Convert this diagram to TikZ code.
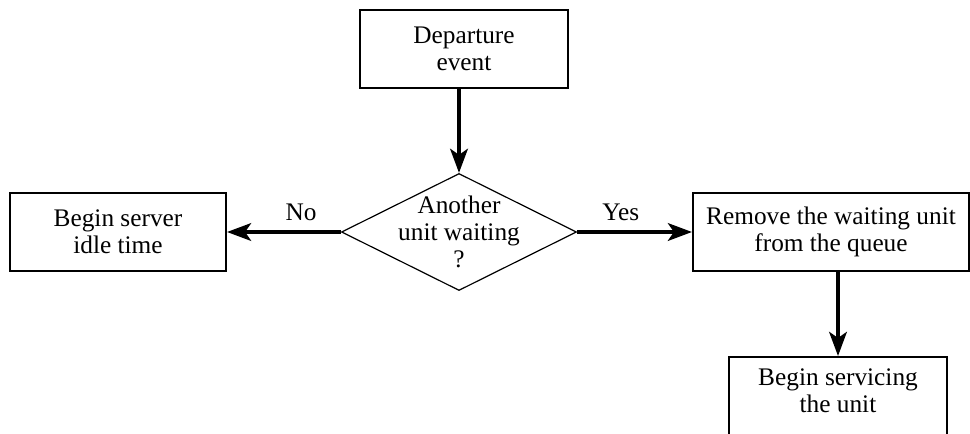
\documentclass[tikz,border=0pt]{standalone}
\usepackage{fontspec}
\setmainfont{Liberation Serif}
\usepackage{tikz}
\usetikzlibrary{shapes.geometric,arrows.meta}

\tikzset{
  box/.style={draw, line width=0.5mm, align=center, inner sep=0pt,
    minimum height=1.95cm, font=\fontsize{18}{19.5}\selectfont},
  decision/.style={draw, diamond, aspect=2, line width=0.3mm, align=center,
    inner xsep=0pt, inner ysep=-0.3cm,
    minimum width=5.875cm, minimum height=2.925cm, font=\fontsize{18}{19}\selectfont},
  flow/.style={line width=1mm, -{Stealth[length=6mm,width=4.4mm,inset=1.5mm]}},
  answer/.style={font=\fontsize{18}{19.5}\selectfont, above=3pt}
}

\begin{document}
\begin{tikzpicture}[x=0.025cm, y=-0.025cm]
      \useasboundingbox (0,0) rectangle (970,433);
      \clip (0,0) rectangle (970,433);

      % Start event
      \node[box, minimum width=5.2cm] (departure) at (464,49) {Departure\\event};

      % Question
      \node[decision] (waiting) at (459,232) {Another\\unit waiting\\?};

      % No branch
      \node[box, minimum width=5.4cm] (idle) at (118,232) {Begin server\\idle time};

      % Yes branch
      \node[box, minimum width=6.9cm] (remove) at (831,232) {Remove the waiting unit\\from the queue};
      \node[box, minimum width=5.45cm, minimum height=2.1cm, text depth=12pt] (service) at (838,399) {Begin servicing\\the unit};

      % Arrows
      \draw[flow] (departure.south -| waiting.north) -- (waiting.north);
      \draw[flow] (waiting.west) -- node[answer, pos=0.35] (no) {No} (idle.east);
      \draw[flow] (waiting.east) -- node[answer, pos=0.38] (yes) {Yes} (remove.west);
      \draw[flow] (remove.south -| service.north) -- (service.north);
  \end{tikzpicture}
\end{document}
